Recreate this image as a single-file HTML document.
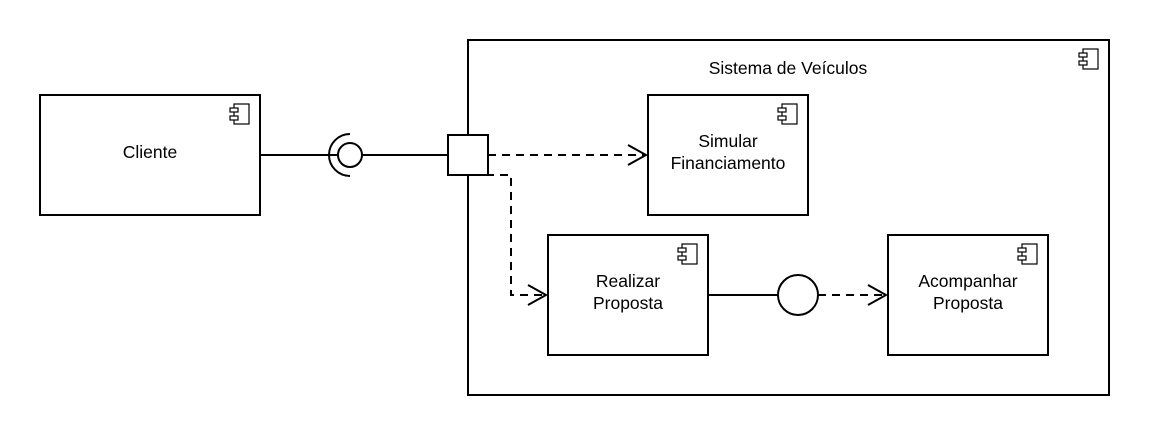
<!DOCTYPE html>
<html><head><style>body{margin:0;background:#fff}svg{display:block}text{font-family:"Liberation Sans",sans-serif;font-size:17.5px;fill:#000}</style></head>
<body>
<svg width="1149" height="435" viewBox="0 0 1149 435" xmlns="http://www.w3.org/2000/svg">
<defs>
<g id="ic" fill="#fff" stroke="#000" stroke-width="1.2">
<rect x="-26" y="9" width="15" height="20"/>
<rect x="-30" y="13" width="8" height="4"/>
<rect x="-30" y="21" width="8" height="4"/>
</g>
</defs>
<g fill="#fff" stroke="#000" stroke-width="2">
<rect x="468" y="40" width="641" height="355"/>
<rect x="40" y="95" width="220" height="120"/>
<rect x="648" y="95" width="160" height="120"/>
<rect x="548" y="235" width="160" height="120"/>
<rect x="888" y="235" width="160" height="120"/>
</g>
<use href="#ic" x="1109" y="40"/>
<use href="#ic" x="260" y="95"/>
<use href="#ic" x="808" y="95"/>
<use href="#ic" x="708" y="235"/>
<use href="#ic" x="1048" y="235"/>
<g fill="none" stroke="#000" stroke-width="2">
<line x1="260" y1="155" x2="338" y2="155"/>
<path d="M350 134 A21 21 0 0 0 350 176"/>
<circle cx="350" cy="155" r="12" fill="#fff"/>
<line x1="362" y1="155" x2="448" y2="155"/>
<rect x="448" y="135" width="40" height="40" fill="#fff"/>
<path d="M488 155 H646" stroke-dasharray="8,6"/>
<path d="M628 145 L646 155 L628 165"/>
<path d="M486 175 H511 V295 H546" stroke-dasharray="8,6"/>
<path d="M528 285 L546 295 L528 305"/>
<line x1="708" y1="295" x2="778" y2="295"/>
<circle cx="798" cy="295" r="20" fill="#fff"/>
<path d="M818 295 H886" stroke-dasharray="8,6"/>
<path d="M868 285 L886 295 L868 305"/>
</g>
<text x="788" y="74" text-anchor="middle">Sistema de Veículos</text>
<text x="150" y="158" text-anchor="middle">Cliente</text>
<text x="728" y="147" text-anchor="middle">Simular</text>
<text x="728" y="169" text-anchor="middle">Financiamento</text>
<text x="628" y="287" text-anchor="middle">Realizar</text>
<text x="628" y="309" text-anchor="middle">Proposta</text>
<text x="968" y="287" text-anchor="middle">Acompanhar</text>
<text x="968" y="309" text-anchor="middle">Proposta</text>
</svg>
</body></html>
